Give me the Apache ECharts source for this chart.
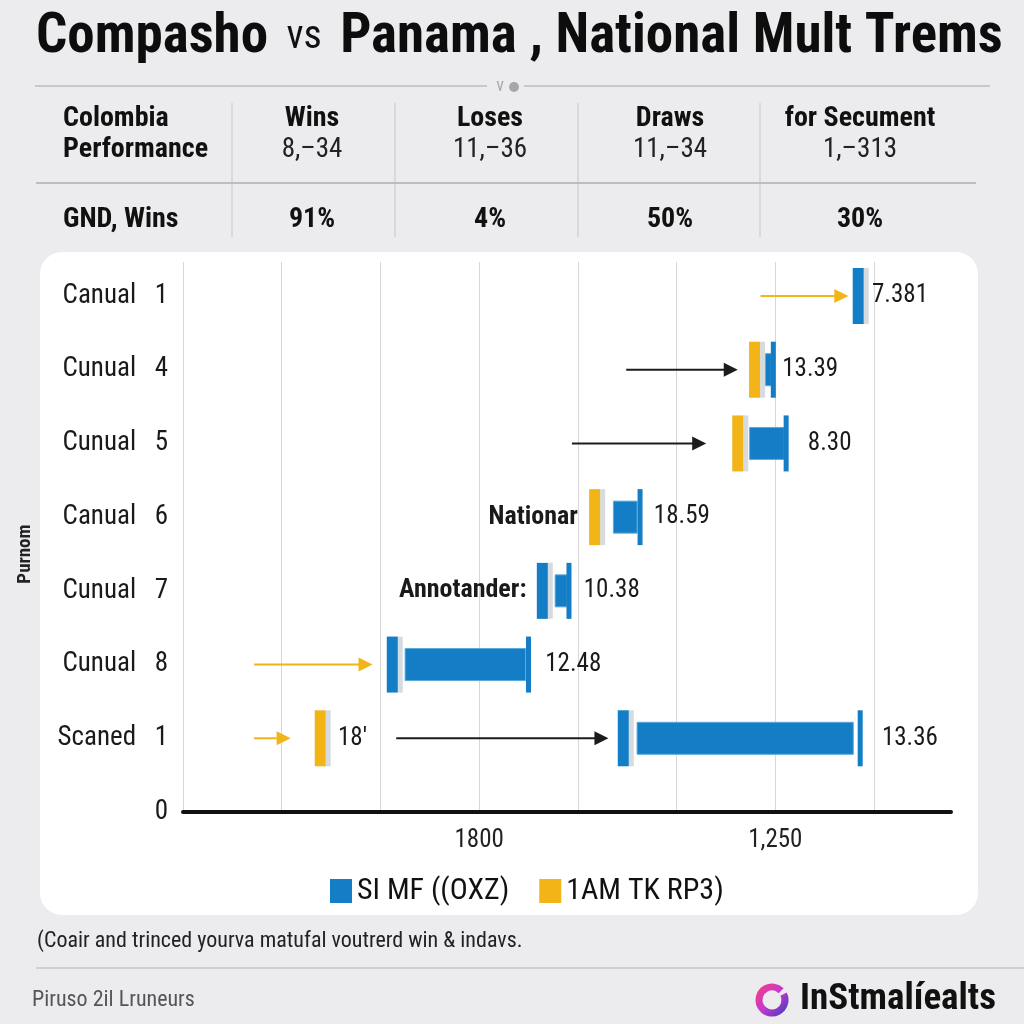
<!DOCTYPE html>
<html>
<head>
<meta charset="utf-8">
<script src="https://cdn.jsdelivr.net/npm/echarts@6/dist/echarts.min.js"></script>
<style>
html,body{margin:0;padding:0;background:#ececef;}
#panel{position:absolute;left:40px;top:252px;width:938px;height:663px;background:#fff;border-radius:22px;}
#chart{position:absolute;left:0;top:0;width:1024px;height:1024px;}
</style>
</head>
<body>
<div id="panel"></div>
<div id="chart"></div>
<script>
// ---------- data ----------
const categories = ["0", "Scaned   1", "Cunual   8", "Cunual   7", "Canual   6", "Cunual   5", "Cunual   4", "Canual   1"];
const xTickLabels = ["", "", "", "1800", "", "", "1,250", ""];
// [from, to, rowIndex]
const arrowsYellow = [[5.85, 6.74, 7], [0.72, 1.92, 2], [0.72, 1.09, 1]];
const arrowsBlack = [[4.49, 5.62, 6], [3.94, 5.30, 5], [2.16, 4.31, 1]];
// [x, rowIndex]
const yellowMarkers = [[5.79, 6], [5.62, 5], [4.17, 4], [1.39, 1]];
const blueMarkers = [[6.84, 7], [3.64, 3], [2.12, 2], [4.46, 1]];
// [from, to, rowIndex]
const blueBlocks = [[5.90, 5.96, 6], [5.74, 6.09, 5], [4.36, 4.60, 4], [3.77, 3.89, 3], [2.25, 3.47, 2], [4.60, 6.79, 1]];
const blueCaps = [[5.98, 6], [6.11, 5], [4.63, 4], [3.91, 3], [3.50, 2], [6.86, 1]];
// [x, rowIndex, text]
const valueLabels = [[6.98, 7, "7.381"], [6.07, 6, "13.39"], [6.33, 5, "8.30"], [4.77, 4, "18.59"], [4.06, 3, "10.38"], [3.67, 2, "12.48"], [7.08, 1, "13.36"], [1.57, 1, "18'"]];
const annotations = [[4.00, 4, "Nationar"], [3.48, 3, "Annotander:"]];
const legendNames = ["SI MF ((OXZ)", "1AM TK RP3)"];

const tableHeaders = ["Wins", "Loses", "Draws", "for Secument"];
const tableRanges = ["8,\u201334", "11,\u201336", "11,\u201334", "1,\u2013313"];
const tableWins = ["91%", "4%", "50%", "30%"];

// ---------- style ----------
const F = "'Liberation Sans Narrow','Roboto Condensed','Arial Narrow','Roboto',sans-serif";
const BLUE = '#137dc5';
const YELLOW = '#f2b417';
const GREYSTRIP = '#d6dbdf';
const colX = [312, 490, 670, 860];
const sepX = [232, 395, 578, 760];

function arrowRender(color) {
  return function (params, api) {
    const p0 = api.coord([api.value(0), api.value(2)]);
    const p1 = api.coord([api.value(1), api.value(2)]);
    const hl = 14, hw = 7;
    return {
      type: 'group', children: [
        { type: 'line', shape: { x1: p0[0], y1: p0[1], x2: p1[0] - hl + 1, y2: p1[1] }, style: { stroke: color, lineWidth: 2 } },
        { type: 'polygon', shape: { points: [[p1[0], p1[1]], [p1[0] - hl, p1[1] - hw], [p1[0] - hl, p1[1] + hw]] }, style: { fill: color } }
      ]
    };
  };
}
function markerRender(color) {
  return function (params, api) {
    const p = api.coord([api.value(0), api.value(1)]);
    const w = 11, h = 56;
    return {
      type: 'group', children: [
        { type: 'rect', shape: { x: p[0] + w / 2, y: p[1] - h / 2, width: 5, height: h }, style: { fill: GREYSTRIP } },
        { type: 'rect', shape: { x: p[0] - w / 2, y: p[1] - h / 2, width: w, height: h }, style: { fill: color } }
      ]
    };
  };
}
function blockRender(params, api) {
  const p0 = api.coord([api.value(0), api.value(2)]);
  const p1 = api.coord([api.value(1), api.value(2)]);
  const h = 32;
  return { type: 'rect', shape: { x: p0[0], y: p0[1] - h / 2, width: p1[0] - p0[0], height: h }, style: { fill: BLUE, stroke: '#5aa9de', lineWidth: 1 } };
}
function capRender(params, api) {
  const p = api.coord([api.value(0), api.value(1)]);
  const h = 56;
  return { type: 'rect', shape: { x: p[0] - 2.5, y: p[1] - h / 2, width: 5, height: h }, style: { fill: BLUE } };
}
function labelRender(list, align, bold, size) {
  return function (params, api) {
    const d = list[params.dataIndex];
    const p = api.coord([d[0], d[1]]);
    return { type: 'text', x: p[0], y: p[1], style: { text: d[2], fontSize: size, fontFamily: F, fontWeight: bold ? 'bold' : 'normal', fill: '#1a1a1a', align: align, verticalAlign: 'middle' } };
  };
}

// ---------- graphic (title, table, footer) ----------
const g = [];
g.push({ type: 'text', x: 36, y: 38, style: { text: '{b|Compasho}{r|  vs  }{b|Panama , National Mult Trems}', rich: { b: { fontSize: 55, fontWeight: 'bold', fontFamily: F, fill: '#0d0d0d' }, r: { fontSize: 40, fontFamily: F, fill: '#111' } }, verticalAlign: 'middle' } });
g.push({ type: 'line', shape: { x1: 35, y1: 86, x2: 487, y2: 86 }, style: { stroke: '#c8c8cc', lineWidth: 2 } });
g.push({ type: 'line', shape: { x1: 524, y1: 86, x2: 990, y2: 86 }, style: { stroke: '#c8c8cc', lineWidth: 2 } });
g.push({ type: 'text', x: 500, y: 86, style: { text: 'v', fontSize: 18, fontFamily: F, fill: '#aaaaae', align: 'center', verticalAlign: 'middle' } });
g.push({ type: 'circle', shape: { cx: 514, cy: 87, r: 5 }, style: { fill: '#a6a6ab' } });
sepX.forEach(x => g.push({ type: 'line', shape: { x1: x, y1: 103, x2: x, y2: 237 }, style: { stroke: '#c6c6ca', lineWidth: 1 } }));
g.push({ type: 'line', shape: { x1: 36, y1: 183, x2: 976, y2: 183 }, style: { stroke: '#bdbdc1', lineWidth: 2 } });
g.push({ type: 'text', x: 63, y: 119, style: { text: 'Colombia', fontSize: 28, fontWeight: 'bold', fontFamily: F, fill: '#111', verticalAlign: 'middle' } });
g.push({ type: 'text', x: 63, y: 150, style: { text: 'Performance', fontSize: 28, fontWeight: 'bold', fontFamily: F, fill: '#111', verticalAlign: 'middle' } });
g.push({ type: 'text', x: 63, y: 220, style: { text: 'GND, Wins', fontSize: 28, fontWeight: 'bold', fontFamily: F, fill: '#111', verticalAlign: 'middle' } });
tableHeaders.forEach((t, i) => {
  g.push({ type: 'text', x: colX[i], y: 119, style: { text: t, fontSize: 28, fontWeight: 'bold', fontFamily: F, fill: '#111', align: 'center', verticalAlign: 'middle' } });
  g.push({ type: 'text', x: colX[i], y: 150, style: { text: tableRanges[i], fontSize: 27, fontFamily: F, fill: '#222', align: 'center', verticalAlign: 'middle' } });
  g.push({ type: 'text', x: colX[i], y: 220, style: { text: tableWins[i], fontSize: 28, fontWeight: 'bold', fontFamily: F, fill: '#111', align: 'center', verticalAlign: 'middle' } });
});
g.push({ type: 'text', x: 37, y: 941, style: { text: '(Coair and trinced yourva matufal voutrerd win & indavs.', fontSize: 22, fontFamily: F, fill: '#222', verticalAlign: 'middle' } });
g.push({ type: 'line', shape: { x1: 36, y1: 968, x2: 1024, y2: 968 }, style: { stroke: '#cfcfd3', lineWidth: 2 } });
g.push({ type: 'text', x: 32, y: 1000, style: { text: 'Piruso 2il Lruneurs', fontSize: 22, fontFamily: F, fill: '#555', verticalAlign: 'middle' } });
g.push({ type: 'arc', shape: { cx: 772, cy: 1000, r: 13, startAngle: -Math.PI * 0.15, endAngle: Math.PI * 1.75 }, style: { lineWidth: 7, fill: 'none', stroke: new echarts.graphic.LinearGradient(0, 0, 1, 1, [{ offset: 0, color: '#ff3d7a' }, { offset: 0.5, color: '#c23ad0' }, { offset: 1, color: '#3b3bb8' }]) } });
g.push({ type: 'text', x: 996, y: 1000, style: { text: 'InStmal\u00edealts', fontSize: 37, fontWeight: 'bold', fontFamily: F, fill: '#111', align: 'right', verticalAlign: 'middle' } });

// ---------- chart ----------
const chart = echarts.init(document.getElementById('chart'), null, { renderer: 'canvas' });
chart.setOption({
  backgroundColor: 'transparent',
  animation: false,
  graphic: g,
  grid: [
    { left: 183, right: 73, top: 296, bottom: 212 },
    { left: 183, right: 150, top: 262, bottom: 212 }
  ],
  xAxis: [
    {
      type: 'value', gridIndex: 0, min: 0, max: 7.78, interval: 1, z: 5,
      axisLine: { show: true, lineStyle: { color: '#111', width: 4 } },
      axisTick: { show: false }, splitLine: { show: false },
      axisLabel: {
        margin: 16, fontSize: 25, color: '#222', fontFamily: F, showMaxLabel: false,
        formatter: v => { const i = Math.round(v); return (Math.abs(v - i) < 1e-6 && xTickLabels[i]) ? xTickLabels[i] : ''; }
      }
    },
    {
      type: 'value', gridIndex: 1, min: 0, max: 7, interval: 1,
      axisLine: { show: false }, axisTick: { show: false }, axisLabel: { show: false },
      splitLine: { show: true, lineStyle: { color: '#d7d7d9', width: 1 } }
    }
  ],
  yAxis: [
    {
      type: 'category', gridIndex: 0, data: categories, boundaryGap: false,
      axisLine: { show: false }, axisTick: { show: false }, splitLine: { show: false },
      axisLabel: { margin: 15, fontSize: 27, color: '#1a1a1a', fontFamily: F },
      name: 'Purnom', nameLocation: 'middle', nameGap: 148, nameRotate: 90,
      nameTextStyle: { fontSize: 19, fontWeight: 'bold', color: '#222', fontFamily: F }
    },
    { type: 'value', gridIndex: 1, show: false, min: 0, max: 1 }
  ],
  legend: {
    data: legendNames, left: 325, top: 871, icon: 'rect', itemWidth: 22, itemHeight: 24, itemGap: 30,
    textStyle: { fontSize: 30, color: '#111', fontFamily: F }, selectedMode: false
  },
  series: [
    { type: 'custom', name: 'arrowsY', renderItem: arrowRender(YELLOW), data: arrowsYellow, encode: { x: [0, 1], y: 2 }, z: 3 },
    { type: 'custom', name: 'arrowsB', renderItem: arrowRender('#1c1c1c'), data: arrowsBlack, encode: { x: [0, 1], y: 2 }, z: 3 },
    { type: 'custom', name: legendNames[0], renderItem: blockRender, data: blueBlocks, encode: { x: [0, 1], y: 2 }, itemStyle: { color: BLUE }, z: 3 },
    { type: 'custom', name: 'caps', renderItem: capRender, data: blueCaps, encode: { x: 0, y: 1 }, z: 3 },
    { type: 'custom', name: 'blueMarkers', renderItem: markerRender(BLUE), data: blueMarkers, encode: { x: 0, y: 1 }, z: 4 },
    { type: 'custom', name: legendNames[1], renderItem: markerRender(YELLOW), data: yellowMarkers, encode: { x: 0, y: 1 }, itemStyle: { color: YELLOW }, z: 4 },
    { type: 'custom', name: 'values', renderItem: labelRender(valueLabels, 'left', false, 25), data: valueLabels.map(d => [d[0], d[1]]), encode: { x: 0, y: 1 }, z: 4 },
    { type: 'custom', name: 'notes', renderItem: labelRender(annotations, 'right', true, 26), data: annotations.map(d => [d[0], d[1]]), encode: { x: 0, y: 1 }, z: 4 }
  ]
});
</script>
</body>
</html>
